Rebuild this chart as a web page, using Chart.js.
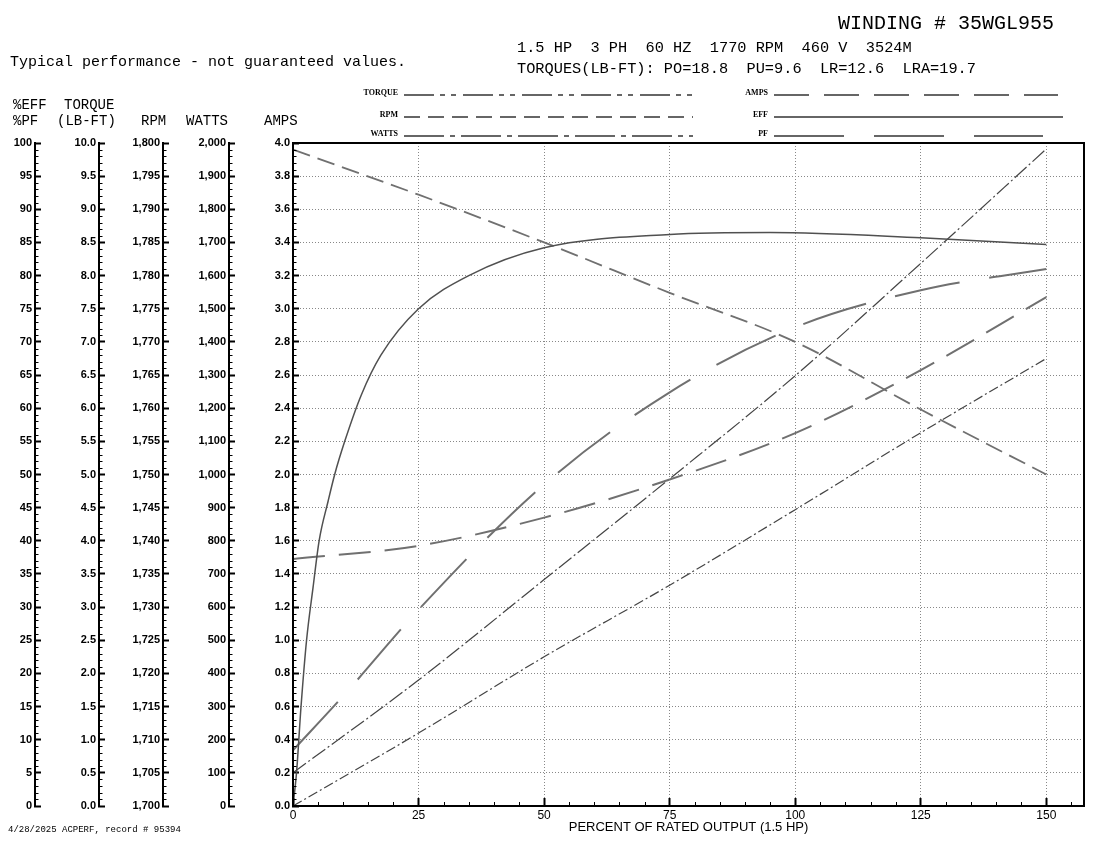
<!DOCTYPE html>
<html>
<head>
<meta charset="utf-8">
<script src="https://cdn.jsdelivr.net/npm/chart.js@4.4.1/dist/chart.umd.min.js"></script>
<style>
html, body { margin: 0; padding: 0; background: #fff; }
</style>
</head>
<body>
<canvas id="perf" width="1099" height="843"></canvas>
<script>
// percent of rated output for the sampled points
const loadPct = [0, 25, 50, 75, 100, 125, 150];
const ampsVals = [1.49, 1.57, 1.74, 1.97, 2.25, 2.63, 3.07];
const rpmVals = [1799, 1792.2, 1785, 1777.4, 1770, 1759.8, 1750];
const torqueVals = [0, 1.10, 2.25, 3.33, 4.47, 5.63, 6.75];
const wattsVals = [100, 380, 683, 987, 1298, 1637, 1982];

// efficiency rises fast at light load, so it has more points
const effLoad = [0, 0.7, 1.6, 2.7, 4.0, 5.2, 7, 8.3, 10.3, 13.6, 17.5, 25, 35, 50, 75, 95, 125, 150];
const effVals = [0, 5, 15, 25, 33, 40, 46, 50, 55, 62, 68, 75, 80, 84.2, 86.2, 86.5, 85.7, 84.7];
const pfLoad = [0, 10, 25, 50, 75, 100, 125, 150];
const pfVals = [8.4, 16.6, 29.6, 48.5, 62.4, 72.2, 77.8, 81];

const pts = (xs, ys) => xs.map((x, i) => ({ x: x, y: ys[i] }));

const tickFont = { family: "'Liberation Sans', Arial, sans-serif", size: 11, weight: 'bold' };
const mono = "'Liberation Mono', 'Courier New', monospace";

function leftAxis(min, max, step, weight, width, fmt, onArea) {
    return {
        type: 'linear',
        position: 'left',
        min: min,
        max: max,
        weight: weight,
        afterFit: s => { s.width = width; },
        border: { display: true, color: '#000', width: 2, dash: onArea ? [1, 2] : [] },
        grid: {
            drawOnChartArea: onArea,
            color: '#888',
            lineWidth: 1,
            tickLength: -6,
            tickWidth: 2,
            tickColor: '#000'
        },
        ticks: { stepSize: step, padding: 9, color: '#000', font: tickFont, autoSkip: false, callback: fmt }
    };
}

// [scale id, minor step, tick length]
const minorTicks = [['yE', 1, 3.5], ['yT', 0.1, 3.5], ['yR', 1, 3.5], ['yW', 20, 3.5], ['yA', 0.04, 3.5], ['x', 5, 4]];

// legend samples drawn at the top
const legendRows = [
    { label: 'TORQUE', x: 398, x2: 693, y: 93, dash: [30, 6, 5, 6, 5, 7] },
    { label: 'RPM', x: 398, x2: 693, y: 115, dash: [16, 8] },
    { label: 'WATTS', x: 398, x2: 693, y: 134, dash: [40, 6, 5, 6] },
    { label: 'AMPS', x: 768, x2: 1058, y: 93, dash: [35, 15] },
    { label: 'EFF', x: 768, x2: 1063, y: 115, dash: [] },
    { label: 'PF', x: 768, x2: 1043, y: 134, dash: [70, 30] }
];

const extras = {
    id: 'extras',
    afterDraw(chart) {
        const c = chart.ctx;
        const a = chart.chartArea;
        c.save();
        // frame round the plot
        c.strokeStyle = '#000';
        c.lineWidth = 2;
        c.strokeRect(a.left, a.top, a.right - a.left, a.bottom - a.top);

        // minor ticks
        c.lineWidth = 1;
        minorTicks.forEach(([id, step, len]) => {
            const s = chart.scales[id];
            const n = Math.floor((s.max - s.min) / step + 1e-6);
            for (let i = 0; i <= n; i++) {
                if (i % 5 === 0) continue;
                const v = s.min + i * step;
                c.beginPath();
                if (id === 'x') {
                    const px = Math.round(s.getPixelForValue(v)) + 0.5;
                    c.moveTo(px, s.top);
                    c.lineTo(px, s.top - len);
                } else {
                    const py = Math.round(s.getPixelForValue(v)) + 0.5;
                    c.moveTo(s.right, py);
                    c.lineTo(s.right + len, py);
                }
                c.stroke();
            }
        });

        // texts
        c.fillStyle = '#000';
        c.textBaseline = 'alphabetic';
        c.textAlign = 'left';
        c.font = '20px ' + mono;
        c.fillText('WINDING # 35WGL955', 838, 29);
        c.font = '15.3px ' + mono;
        c.fillText('1.5 HP  3 PH  60 HZ  1770 RPM  460 V  3524M', 517, 52);
        c.fillText('TORQUES(LB-FT): PO=18.8  PU=9.6  LR=12.6  LRA=19.7', 517, 73);
        c.font = '15px ' + mono;
        c.fillText('Typical performance - not guaranteed values.', 10, 66);
        c.font = '14px ' + mono;
        c.fillText('%EFF', 13, 109);
        c.fillText('TORQUE', 64, 109);
        c.fillText('%PF', 13, 125);
        c.fillText('(LB-FT)', 57, 125);
        c.fillText('RPM', 141, 125);
        c.fillText('WATTS', 186, 125);
        c.fillText('AMPS', 264, 125);
        c.font = '9px ' + mono;
        c.fillText('4/28/2025 ACPERF, record # 95394', 8, 832);

        // legend
        c.font = "bold 8px 'Liberation Serif', serif";
        c.textAlign = 'right';
        c.textBaseline = 'middle';
        legendRows.forEach(r => {
            c.fillStyle = '#000';
            c.fillText(r.label, r.x, r.y);
            c.strokeStyle = '#666';
            c.lineWidth = 2;
            c.setLineDash(r.dash);
            c.beginPath();
            c.moveTo(r.x + 6, r.y + 2);
            c.lineTo(r.x2, r.y + 2);
            c.stroke();
        });
        c.setLineDash([]);
        c.restore();
    }
};

const ctx = document.getElementById('perf').getContext('2d');
const perfChart = new Chart(ctx, {
    type: 'line',
    data: {
        datasets: [
            {
                label: 'EFF', data: pts(effLoad, effVals), yAxisID: 'yE',
                borderColor: '#505050', borderWidth: 1.5, borderDash: []
            },
            {
                label: 'PF', data: pts(pfLoad, pfVals), yAxisID: 'yE',
                borderColor: '#707070', borderWidth: 2, borderDash: [66, 30]
            },
            {
                label: 'AMPS', data: pts(loadPct, ampsVals), yAxisID: 'yA',
                borderColor: '#707070', borderWidth: 2, borderDash: [32, 14]
            },
            {
                label: 'RPM', data: pts(loadPct, rpmVals), yAxisID: 'yR',
                borderColor: '#707070', borderWidth: 1.8, borderDash: [18, 8]
            },
            {
                label: 'TORQUE', data: pts(loadPct, torqueVals), yAxisID: 'yT',
                borderColor: '#444', borderWidth: 1.2, borderDash: [10, 3, 2, 3]
            },
            {
                label: 'WATTS', data: pts(loadPct, wattsVals), yAxisID: 'yW',
                borderColor: '#444', borderWidth: 1.2, borderDash: [16, 3, 2, 3]
            }
        ]
    },
    options: {
        responsive: false,
        animation: false,
        devicePixelRatio: 1,
        layout: { padding: { left: 0, right: 15, top: 143, bottom: 0 } },
        elements: {
            point: { radius: 0 },
            line: { cubicInterpolationMode: 'monotone', fill: false }
        },
        plugins: {
            legend: { display: false },
            tooltip: { enabled: false }
        },
        scales: {
            x: {
                type: 'linear',
                position: 'bottom',
                min: 0,
                max: 157.5,
                bounds: 'data',
                afterFit: s => { s.height = 37; },
                border: { display: true, color: '#000', width: 2, dash: [1, 2] },
                grid: {
                    color: c => (c.tick && c.tick.value === 0) ? 'rgba(0,0,0,0)' : '#888',
                    tickColor: '#000',
                    tickLength: -8,
                    tickWidth: 2
                },
                ticks: {
                    stepSize: 25, includeBounds: false, padding: 10, color: '#000',
                    font: { family: "'Liberation Sans', Arial, sans-serif", size: 12 },
                    maxRotation: 0, autoSkip: false
                },
                title: {
                    display: true,
                    text: 'PERCENT OF RATED OUTPUT (1.5 HP)',
                    color: '#000',
                    font: { family: "'Liberation Sans', Arial, sans-serif", size: 13 },
                    padding: { top: 0, bottom: 8 }
                }
            },
            yE: leftAxis(0, 100, 5, 5, 35, v => String(v), false),
            yT: leftAxis(0, 10, 0.5, 4, 64, v => v.toFixed(1), false),
            yR: leftAxis(1700, 1800, 5, 3, 64, v => v.toLocaleString('en-US'), false),
            yW: leftAxis(0, 2000, 100, 2, 66, v => v.toLocaleString('en-US'), false),
            yA: leftAxis(0, 4, 0.2, 1, 64, v => v.toFixed(1), true)
        }
    },
    plugins: [extras]
});
</script>
</body>
</html>
